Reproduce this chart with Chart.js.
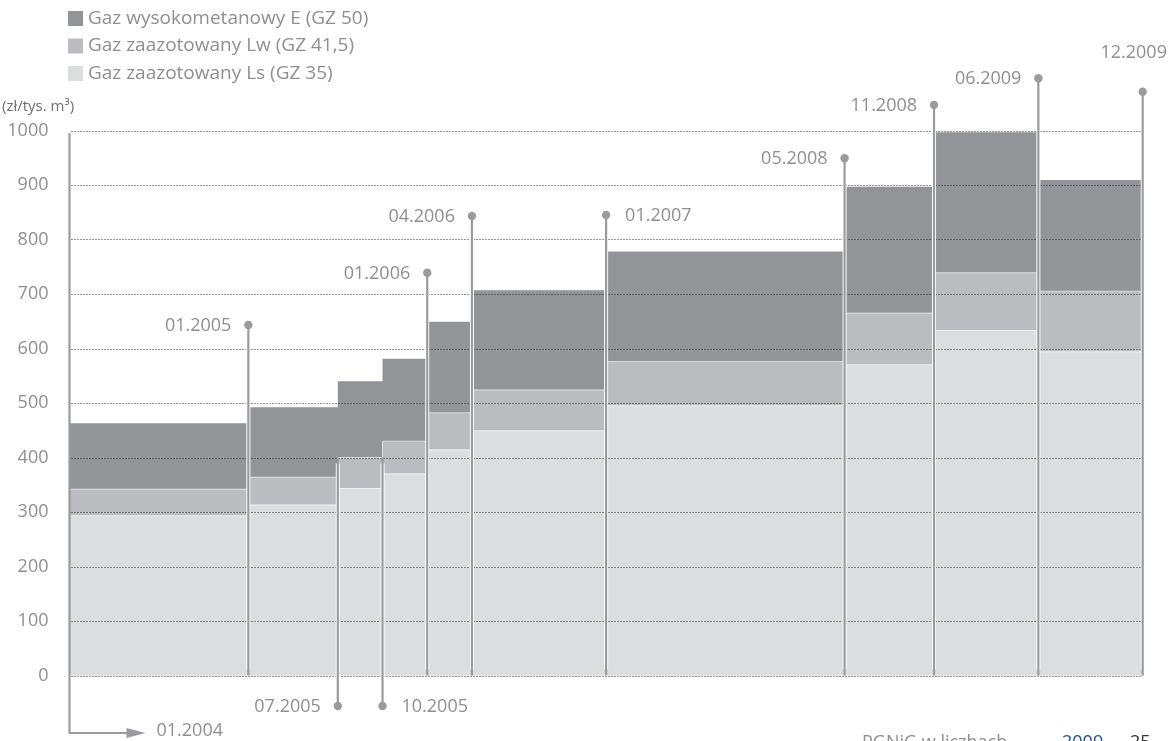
<!DOCTYPE html>
<html>
<head>
<meta charset="utf-8">
<script src="https://cdn.jsdelivr.net/npm/chart.js@4.4.1/dist/chart.umd.min.js"></script>
<style>
    html, body { margin: 0; padding: 0; background: #fff; }
    .wrap { width: 1173px; height: 741px; position: relative; }
</style>
</head>
<body>
<div class="wrap"><canvas id="gasChart"></canvas></div>
<script>
// months counted from 01.2004, one entry per tariff period start
const periodStart = [0, 12, 18, 21, 24, 27, 36, 52, 58, 65];
const periodEnd = 72;

// zl / 1000 m3
const gasE = [463, 492, 540, 581, 649, 707, 778, 897, 997, 909];
const gasLw = [342, 364, 400, 430, 482, 524, 576, 665, 739, 705];
const gasLs = [293, 313, 343, 370, 414, 449, 495, 570, 633, 594];

const seriesNames = ["Gaz wysokometanowy E (GZ 50)", "Gaz zaazotowany Lw (GZ 41,5)", "Gaz zaazotowany Ls (GZ 35)"];
const seriesColors = ["#939498", "#bbbcbf", "#dcdddf"];

const yTicks = [0, 100, 200, 300, 400, 500, 600, 700, 800, 900, 1000];

// tariff change markers
const markerLabels = ["01.2005", "07.2005", "10.2005", "01.2006", "04.2006", "01.2007", "05.2008", "11.2008", "06.2009", "12.2009"];
const markerMonths = [12, 18, 21, 24, 27, 36, 52, 58, 65, 72];
const markerDots = [643, -56, -56, 739, 843, 845, 949, 1047, 1096, 1071];
const markerLineEnd = [0, 400, 400, 0, 0, 0, 0, 0, 0, 0];
const markerSide = ["left", "left", "right", "left", "left", "right", "left", "left", "left", "top"];

const textGray = "#8e8f93";
const lineGray = "#9a9b9f";
const font = "'Open Sans', 'Noto Sans', sans-serif";

// one point per period start, plus a closing point at the end
function stepPoints(values) {
    let pts = periodStart.map((m, i) => ({ x: m, y: values[i] }));
    pts.push({ x: periodEnd, y: values[values.length - 1] });
    return pts;
}

const overlayPlugin = {
    id: "overlay",
    afterDatasetsDraw(chart) {
        const ctx = chart.ctx;
        const area = chart.chartArea;
        const xs = chart.scales.x;
        const ys = chart.scales.y;

        // dotted grid over the fills
        ctx.save();
        ctx.strokeStyle = "#2a2a2a";
        ctx.lineWidth = 1;
        ctx.setLineDash([1, 2]);
        yTicks.forEach(v => {
            let y = Math.round(ys.getPixelForValue(v)) + 0.5;
            ctx.beginPath();
            ctx.moveTo(area.left + 2, y);
            ctx.lineTo(area.right, y);
            ctx.stroke();
        });
        ctx.restore();

        // left axis with arrow to 01.2004
        let x0 = xs.getPixelForValue(0);
        let top = ys.getPixelForValue(995);
        let yArrow = 733;
        ctx.save();
        ctx.strokeStyle = lineGray;
        ctx.fillStyle = lineGray;
        ctx.lineWidth = 2.2;
        ctx.beginPath();
        ctx.moveTo(x0, top);
        ctx.lineTo(x0, yArrow);
        ctx.lineTo(x0 + 60, yArrow);
        ctx.stroke();
        ctx.beginPath();
        ctx.moveTo(x0 + 57, yArrow - 5);
        ctx.lineTo(x0 + 76, yArrow);
        ctx.lineTo(x0 + 57, yArrow + 5);
        ctx.closePath();
        ctx.fill();
        ctx.font = "18px " + font;
        ctx.fillStyle = textGray;
        ctx.textAlign = "left";
        ctx.textBaseline = "middle";
        ctx.fillText("01.2004", x0 + 87, yArrow - 2);
        ctx.restore();

        // markers
        markerMonths.forEach((m, i) => {
            let x = xs.getPixelForValue(m);
            let yDot = ys.getPixelForValue(markerDots[i]);
            let yEnd = ys.getPixelForValue(markerLineEnd[i]);
            ctx.save();
            ctx.strokeStyle = "#ffffff";
            ctx.lineWidth = 4;
            ctx.beginPath();
            ctx.moveTo(x, Math.min(yDot, yEnd) + 6);
            ctx.lineTo(x, Math.max(yDot, yEnd) - 6);
            ctx.stroke();
            ctx.strokeStyle = lineGray;
            ctx.lineWidth = 2.2;
            ctx.beginPath();
            ctx.moveTo(x, yDot);
            ctx.lineTo(x, yEnd);
            ctx.stroke();
            ctx.fillStyle = lineGray;
            ctx.beginPath();
            ctx.arc(x, yDot, 4.2, 0, Math.PI * 2);
            ctx.fill();
            ctx.font = "18px " + font;
            ctx.fillStyle = textGray;
            ctx.textBaseline = "middle";
            if (markerSide[i] === "left") {
                ctx.textAlign = "right";
                ctx.fillText(markerLabels[i], x - 17, yDot + 1);
            } else if (markerSide[i] === "right") {
                ctx.textAlign = "left";
                ctx.fillText(markerLabels[i], x + 19, yDot + 1);
            } else {
                ctx.textAlign = "center";
                ctx.fillText(markerLabels[i], x - 9, yDot - 39);
            }
            ctx.restore();
        });
    },
    afterDraw(chart) {
        const ctx = chart.ctx;
        ctx.save();
        // legend
        let order = [2, 1, 0];
        order.forEach((d, row) => {
            let yTop = 11 + row * 27.5;
            ctx.fillStyle = chart.data.datasets[d].backgroundColor;
            ctx.fillRect(68, yTop, 15, 15);
            ctx.font = "19px " + font;
            ctx.fillStyle = textGray;
            ctx.textAlign = "left";
            ctx.textBaseline = "middle";
            ctx.fillText(chart.data.datasets[d].label, 88, yTop + 7.5);
        });
        // unit
        ctx.font = "15px " + font;
        ctx.fillStyle = "#6e6f73";
        ctx.fillText("(zł/tys. m³)", 2, 107);

        // page footer, cut off at the bottom edge
        ctx.textBaseline = "alphabetic";
        ctx.font = "18px " + font;
        ctx.fillStyle = textGray;
        ctx.fillText("PGNiG w liczbach", 862, 748);
        ctx.fillStyle = "#1f4f8f";
        ctx.fillText("2009", 1062, 748);
        ctx.fillStyle = "#333333";
        ctx.fillText("25", 1130, 748);
        ctx.restore();
    }
};

const ctx = document.getElementById("gasChart").getContext("2d");
const gasChart = new Chart(ctx, {
    type: "line",
    data: {
        datasets: [
            {
                label: seriesNames[2],
                data: stepPoints(gasLs),
                backgroundColor: seriesColors[2],
                borderColor: "rgba(255,255,255,0.7)",
                borderWidth: 1,
                fill: "origin",
                stepped: "before",
                pointRadius: 0
            },
            {
                label: seriesNames[1],
                data: stepPoints(gasLw),
                backgroundColor: seriesColors[1],
                borderColor: "rgba(255,255,255,0.6)",
                borderWidth: 1,
                fill: "origin",
                stepped: "before",
                pointRadius: 0
            },
            {
                label: seriesNames[0],
                data: stepPoints(gasE),
                backgroundColor: seriesColors[0],
                borderWidth: 0,
                fill: "origin",
                stepped: "before",
                pointRadius: 0
            }
        ]
    },
    options: {
        responsive: true,
        maintainAspectRatio: false,
        animation: false,
        layout: {
            padding: { left: 9.5, right: 30.3, top: 130.5, bottom: 65.5 }
        },
        plugins: {
            legend: { display: false },
            tooltip: { enabled: false }
        },
        scales: {
            x: {
                type: "linear",
                min: 0,
                max: periodEnd,
                display: false
            },
            y: {
                min: 0,
                max: 1000,
                afterFit: s => { s.width = 60; },
                afterBuildTicks: s => { s.ticks = yTicks.map(v => ({ value: v })); },
                border: { display: false },
                grid: { display: false, drawTicks: false },
                ticks: {
                    padding: 21,
                    color: textGray,
                    font: { family: font, size: 18 },
                    callback: v => String(v)
                }
            }
        }
    },
    plugins: [overlayPlugin]
});
</script>
</body>
</html>
